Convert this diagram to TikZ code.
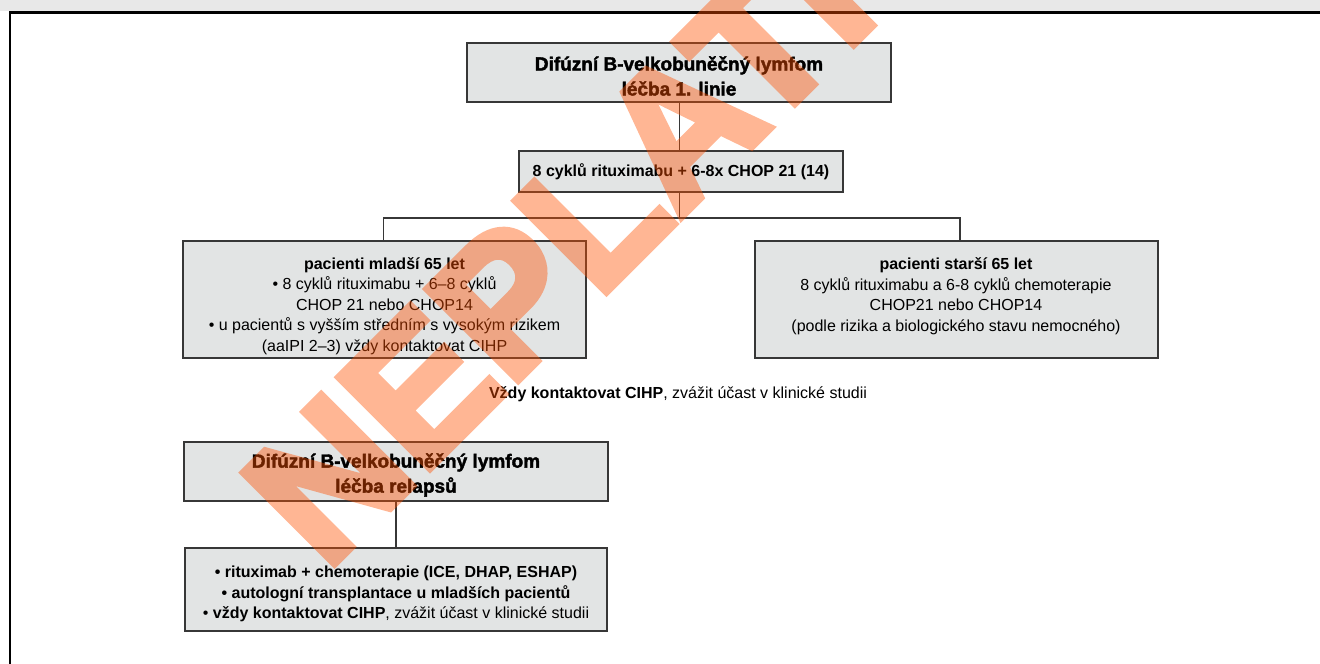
\documentclass[tikz,border=0pt]{standalone}
\usepackage{fontspec}
\setmainfont{Liberation Sans}
\newfontfamily\heavyfont[BoldFeatures={FakeBold=2}]{Liberation Sans}
\newfontfamily\stampfont[BoldFeatures={FakeBold=4}]{Liberation Sans}

\definecolor{boxgray}{RGB}{226,228,228}
\definecolor{edgegray}{RGB}{55,55,55}
\definecolor{stampred}{RGB}{255,80,0}
\definecolor{scanstrip}{RGB}{232,232,232}

\tikzset{
  box/.style={draw=edgegray, fill=boxgray, line width=1.3pt, inner sep=0pt},
  label/.style={align=center, inner sep=0pt, font=\fontsize{16}{20.6}\selectfont},
  boldlabel/.style={label, font=\bfseries\fontsize{16}{20.6}\selectfont},
  titletext/.style={align=center, inner sep=0pt, font=\heavyfont\bfseries\fontsize{19}{25}\selectfont},
  link/.style={draw=edgegray, line width=1.1pt},
  stamp/.style={rotate=45, text=stampred, inner sep=0pt,
    font=\stampfont\bfseries\fontsize{187}{187}\selectfont}
}

\begin{document}
\begin{tikzpicture}[x=1pt, y=-1pt]
\useasboundingbox (0,0) rectangle (1320,664);
\begin{scope}
\clip (0,0) rectangle (1320,664);

% scanned strip above the frame
\fill[scanstrip] (0,0) rectangle (1320,11);
% frame
\draw[line width=2.2pt, black] (10,664) -- (10,12.5) -- (1320,12.5);

% boxes
\node[box, minimum width=424pt, minimum height=59pt] (first) at (679,72.5) {};
\node[box, minimum width=324pt, minimum height=41pt] (regimen) at (681,171.5) {};
\node[box, minimum width=403pt, minimum height=117pt] (young) at (384.5,299.5) {};
\node[box, minimum width=403pt, minimum height=117pt] (old) at (956.5,299.5) {};
\node[box, minimum width=424pt, minimum height=59pt] (relapse) at (396,471.5) {};
\node[box, minimum width=422pt, minimum height=83pt] (relapsetx) at (396,589.5) {};

% connectors
\coordinate (split) at (679.5,218);
\coordinate (leftbar) at (383.5,218);
\coordinate (rightbar) at (960,218);
\draw[link] (first.south -| split) -- (regimen.north -| split);
\draw[link] (regimen.south -| split) -- (split);
\draw[link] (young.north -| leftbar) -- (leftbar) -- (rightbar) -- (old.north -| rightbar);
\draw[link] (relapse.south) -- (relapsetx.north);

% texts
\node[titletext] (firsttext) at (679,76) {Difúzní B-velkobuněčný lymfom\\léčba 1. linie};
\node[boldlabel] (regimentext) at (681,172) {8 cyklů rituximabu + 6-8x CHOP 21 (14)};
\node[label] (youngtext) at (384.5,306) {\textbf{pacienti mladší 65 let}\\• 8 cyklů rituximabu + 6–8 cyklů\\CHOP 21 nebo CHOP14\\• u pacientů s vyšším středním s vysokým rizikem\\(aaIPI 2–3) vždy kontaktovat CIHP};
\node[label] (oldtext) at (956,296) {\textbf{pacienti starší 65 let}\\8 cyklů rituximabu a 6-8 cyklů chemoterapie\\CHOP21 nebo CHOP14\\(podle rizika a biologického stavu nemocného)};
\node[label] (contact) at (678,394) {\textbf{Vždy kontaktovat CIHP}, zvážit účast v klinické studii};
\node[titletext] (relapsetext) at (396,475) {Difúzní B-velkobuněčný lymfom\\léčba relapsů};
\node[label] (relapsetxtext) at (396,594) {\textbf{• rituximab + chemoterapie (ICE, DHAP, ESHAP)}\\\textbf{• autologní transplantace u mladších pacientů}\\• \textbf{vždy kontaktovat CIHP}, zvážit účast v klinické studii};

% stamp across the sheet, translucent as a whole
\begin{scope}[transparency group, opacity=0.42]
\node[stamp] (stamp) at (545,236) {NEPLATÍ};
\end{scope}
\end{scope}
\end{tikzpicture}
\end{document}
